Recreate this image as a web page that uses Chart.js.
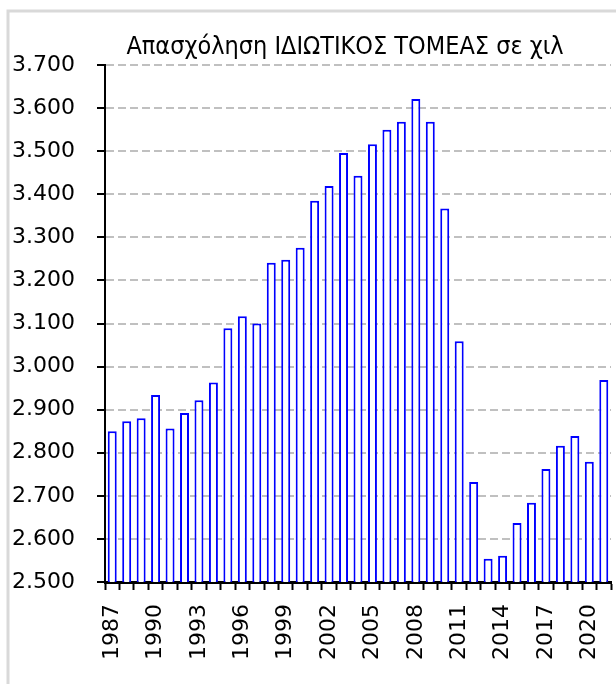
<!DOCTYPE html>
<html>
<head>
<meta charset="utf-8">
<script src="https://cdn.jsdelivr.net/npm/chart.js@4.4.1/dist/chart.umd.min.js"></script>
<style>
  html, body { margin: 0; padding: 0; background: #fff; }
  canvas { display: block; }
</style>
</head>
<body>
<canvas id="employmentChart" width="616" height="684"></canvas>
<script>
// Απασχόληση ιδιωτικού τομέα (χιλ.)
const years = [
  '1987', '1988', '1989', '1990', '1991', '1992', '1993', '1994', '1995', '1996',
  '1997', '1998', '1999', '2000', '2001', '2002', '2003', '2004', '2005', '2006',
  '2007', '2008', '2009', '2010', '2011', '2012', '2013', '2014', '2015', '2016',
  '2017', '2018', '2019', '2020', '2021'
];
const employment = [
  2850, 2873, 2880, 2934, 2856, 2892, 2922, 2963, 3089, 3117,
  3100, 3241, 3248, 3276, 3385, 3419, 3496, 3443, 3516, 3550,
  3568, 3621, 3568, 3367, 3059, 2732, 2554, 2561, 2637, 2684,
  2762, 2816, 2839, 2779, 2969
];
const yMin = 2500;
const yMax = 3700;
const yStep = 100;
const titleText = 'Απασχόληση ΙΔΙΩΤΙΚΟΣ ΤΟΜΕΑΣ σε χιλ';

function greekThousands(v) {
  return String(v).replace(/\B(?=(\d{3})+(?!\d))/g, '.');
}

// light grey frame + title
const framePlugin = {
  id: 'frame',
  beforeDraw(chart) {
    const c = chart.ctx;
    c.save();
    c.strokeStyle = '#d9d9d9';
    c.lineWidth = 3;
    c.beginPath();
    c.moveTo(8, chart.height);
    c.lineTo(8, 11);
    c.lineTo(chart.width, 11);
    c.stroke();
    c.restore();
  },
  afterDraw(chart) {
    const c = chart.ctx;
    c.save();
    c.fillStyle = '#000';
    c.font = "25px 'Liberation Sans Narrow', 'DejaVu Sans Condensed', sans-serif";
    c.textAlign = 'center';
    c.textBaseline = 'middle';
    c.fillText(titleText, 345, 47);
    c.restore();
  }
};

const ctx = document.getElementById('employmentChart').getContext('2d');

new Chart(ctx, {
  type: 'bar',
  data: {
    labels: years,
    datasets: [{
      label: 'Απασχόληση',
      data: employment,
      backgroundColor: '#ffffff',
      borderColor: '#0000ff',
      borderWidth: 2,
      barPercentage: 0.62,
      categoryPercentage: 1
    }]
  },
  options: {
    responsive: false,
    animation: false,
    layout: {
      padding: { left: 0, right: 5, top: 65, bottom: 0 }
    },
    plugins: {
      legend: { display: false },
      tooltip: { enabled: false }
    },
    scales: {
      x: {
        afterFit(scale) {
          scale.height = 102;
          scale.paddingLeft = 0;
          scale.paddingRight = 0;
        },
        border: { color: '#000', width: 3 },
        grid: {
          drawOnChartArea: false,
          drawTicks: true,
          tickLength: 8,
          tickWidth: 2,
          tickColor: '#000'
        },
        ticks: {
          autoSkip: false,
          minRotation: 90,
          maxRotation: 90,
          padding: 14,
          color: '#000',
          font: { family: "'DejaVu Sans', sans-serif", size: 22 },
          callback: function (val, i) {
            return i % 3 === 0 ? this.getLabelForValue(val) : '';
          }
        }
      },
      y: {
        min: yMin,
        max: yMax,
        afterFit(scale) { scale.width = 105; },
        border: { color: '#000', width: 2, dash: [8, 4] },
        grid: {
          color: '#c0c0c0',
          lineWidth: 2,
          tickLength: 8,
          tickWidth: 2,
          tickColor: '#000',
          tickBorderDash: []
        },
        ticks: {
          stepSize: yStep,
          padding: 22,
          color: '#000',
          font: { family: "'DejaVu Sans', sans-serif", size: 22 },
          callback: v => greekThousands(v)
        }
      }
    }
  },
  plugins: [framePlugin]
});
</script>
</body>
</html>
